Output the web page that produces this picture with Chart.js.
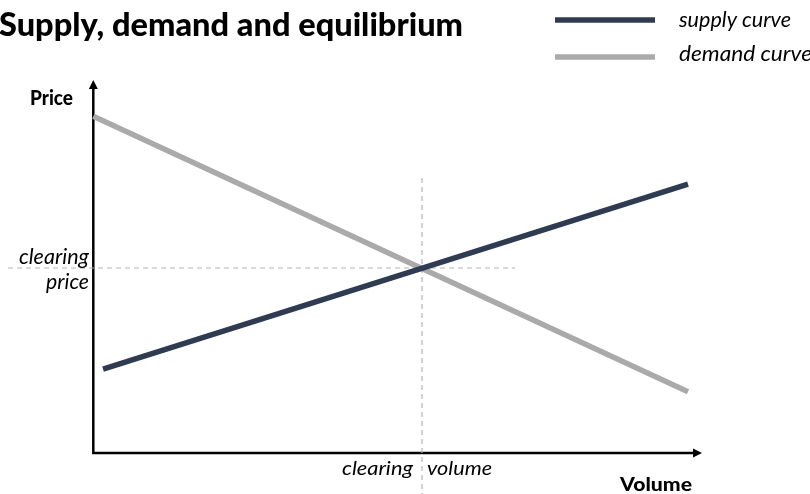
<!DOCTYPE html>
<html>
<head>
<meta charset="utf-8">
<script src="https://cdn.jsdelivr.net/npm/chart.js@4.4.1/dist/chart.umd.min.js"></script>
<style>
  html, body { margin: 0; padding: 0; background: #fff; }
  #wrap { width: 810px; height: 494px; position: relative; }
</style>
</head>
<body>
<div id="wrap"><canvas id="grafico"></canvas></div>
<script>
// curves, in volume / price units (both axes run 0..100)
var supplyVolume = [1.6, 97.7];
var supplyPrice = [22.5, 72.1];
var demandVolume = [0, 97.7];
var demandPrice = [90.3, 16.4];
// equilibrium and the dashed guides through it
var clearingVolume = 54;
var clearingPrice = 49.6;
var guideVolumeEnds = [-14, 69.3];
var guidePriceEnds = [73.7, -11];
var seriesNames = ["supply curve", "demand curve"];
var seriesColors = ["#2e3b50", "#aaaaaa"];
var guideColor = "#b3b3b3";
var fontFamily = "Lato, 'Open Sans', sans-serif";

function puntos(xs, ys) {
  var out = [];
  for (var i = 0; i < xs.length; i++) out.push({x: xs[i], y: ys[i]});
  return out;
}

// text at a given size, squeezed sideways to span the given width (narrow face look)
function texto(ctx, text, style, size, x, baseline, width, align) {
  ctx.save();
  ctx.font = style + " " + size + "px " + fontFamily;
  var s = width / ctx.measureText(text).width;
  var left = align === "right" ? x - width : x;
  ctx.translate(left, baseline);
  ctx.scale(s, 1);
  ctx.fillStyle = "#000";
  ctx.textBaseline = "alphabetic";
  ctx.textAlign = "left";
  ctx.fillText(text, 0, 0);
  ctx.restore();
}

var ejes = {
  id: "ejes",
  beforeDatasetsDraw: function(chart) {
    var ctx = chart.ctx, xs = chart.scales.x, ys = chart.scales.y;
    var x0 = xs.getPixelForValue(0), y0 = ys.getPixelForValue(0);
    var xEnd = xs.getPixelForValue(100), yEnd = ys.getPixelForValue(100);
    ctx.save();
    ctx.strokeStyle = "#000";
    ctx.fillStyle = "#000";
    ctx.lineWidth = 2.5;
    ctx.beginPath();
    ctx.moveTo(x0, yEnd + 6);
    ctx.lineTo(x0, y0);
    ctx.lineTo(xEnd - 6, y0);
    ctx.stroke();
    // arrow heads
    ctx.beginPath();
    ctx.moveTo(x0, yEnd);
    ctx.lineTo(x0 - 4.5, yEnd + 9);
    ctx.lineTo(x0 + 4.5, yEnd + 9);
    ctx.closePath();
    ctx.fill();
    ctx.beginPath();
    ctx.moveTo(xEnd, y0);
    ctx.lineTo(xEnd - 9, y0 - 4.5);
    ctx.lineTo(xEnd - 9, y0 + 4.5);
    ctx.closePath();
    ctx.fill();
    ctx.restore();
  },
  afterDraw: function(chart) {
    var ctx = chart.ctx;
    texto(ctx, "Supply, demand and equilibrium", "900", 32, -1, 36, 464);
    texto(ctx, "Price", "900", 21, 30, 105, 43);
    texto(ctx, "Volume", "900", 19, 620, 491, 72);
    texto(ctx, "clearing", "italic", 21, 89, 264, 70, "right");
    texto(ctx, "price", "italic", 21, 89, 289, 43, "right");
    texto(ctx, "clearing", "italic", 20, 342, 475, 71);
    texto(ctx, "volume", "italic", 20, 427, 475, 65);
    // legend
    var lineY = [20, 57];
    ctx.save();
    for (var i = 0; i < seriesNames.length; i++) {
      ctx.strokeStyle = seriesColors[i];
      ctx.lineWidth = 5.5;
      ctx.beginPath();
      ctx.moveTo(555, lineY[i]);
      ctx.lineTo(655, lineY[i]);
      ctx.stroke();
    }
    ctx.restore();
    texto(ctx, seriesNames[0], "italic", 22, 679, 27, 112);
    texto(ctx, seriesNames[1], "italic", 22, 679, 61, 133);
  }
};

var ctx = document.getElementById("grafico").getContext("2d");
var grafico = new Chart(ctx, {
  type: "scatter",
  data: {
    datasets: [
      {
        label: seriesNames[0],
        data: puntos(supplyVolume, supplyPrice),
        borderColor: seriesColors[0],
        borderWidth: 5.5,
        showLine: true,
        pointRadius: 0,
        borderCapStyle: "butt"
      },
      {
        label: seriesNames[1],
        data: puntos(demandVolume, demandPrice),
        borderColor: seriesColors[1],
        borderWidth: 5.5,
        showLine: true,
        pointRadius: 0,
        borderCapStyle: "butt"
      },
      {
        label: "clearing price",
        data: puntos(guideVolumeEnds, [clearingPrice, clearingPrice]),
        borderColor: guideColor,
        borderWidth: 1.2,
        borderDash: [5, 4],
        showLine: true,
        pointRadius: 0
      },
      {
        label: "clearing volume",
        data: puntos([clearingVolume, clearingVolume], guidePriceEnds),
        borderColor: guideColor,
        borderWidth: 1.2,
        borderDash: [5, 4],
        showLine: true,
        pointRadius: 0
      }
    ]
  },
  options: {
    responsive: true,
    maintainAspectRatio: false,
    animation: false,
    layout: { padding: { left: 2, right: 108, top: 80, bottom: 0 } },
    scales: {
      x: { type: "linear", min: -15, max: 100, display: false },
      y: { type: "linear", min: -11, max: 100, display: false }
    },
    plugins: {
      legend: { display: false },
      title: { display: false },
      tooltip: { enabled: false }
    }
  },
  plugins: [ejes]
});
</script>
</body>
</html>
